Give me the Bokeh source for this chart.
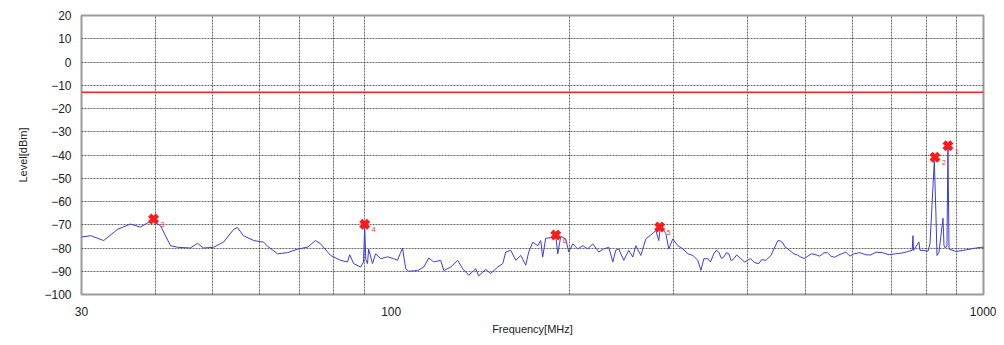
import numpy as np
from bokeh.plotting import figure
from bokeh.models import Range1d, FixedTicker, ColumnDataSource
from bokeh.embed import file_html
from bokeh.resources import INLINE

# ---- data ----
freq = [30.0, 31.1, 32.7, 34.5, 36.3, 37.7, 38.8, 39.7, 40.8, 42.4, 43.6, 45.8, 47.1, 48.2,
        50.1, 52.1, 54.2, 55.0, 56.3, 58.6, 60.9, 61.9, 64.3, 66.8, 69.5, 72.3, 74.5, 76.0,
        79.0, 82.1, 84.4, 85.1, 86.4, 88.8, 89.8, 90.2, 90.6, 91.2, 91.6, 93.0, 94.1, 96.0,
        98.6, 101.0, 102.5, 103.7, 104.5, 105.8, 107.0, 110.8, 113.5, 115.7, 118.0, 121.2,
        122.7, 126.0, 129.5, 132.0, 135.2, 138.9, 140.5, 144.4, 147.2, 151.3, 154.3, 156.1,
        159.2, 162.3, 165.5, 168.7, 170.7, 173.4, 176.8, 178.8, 180.2, 182.3, 185.9, 187.4,
        189.6, 191.1, 193.3, 197.1, 199.4, 202.6, 206.5, 210.6, 214.7, 218.9, 224.1, 228.5,
        233.0, 236.7, 239.4, 242.2, 247.0, 251.8, 255.8, 258.8, 263.9, 269.1, 274.4, 279.8,
        283.0, 284.5, 287.4, 290.8, 294.2, 298.8, 304.7, 310.8, 316.9, 323.1, 329.4, 333.3,
        337.2, 342.4, 346.0, 350.5, 354.0, 357.4, 361.0, 364.4, 368.0, 371.6, 375.0, 378.9,
        383.0, 389.4, 395.0, 400.0, 404.0, 409.4, 413.0, 417.5, 422.0, 429.1, 437.6, 442.7,
        449.7, 454.0, 458.5, 462.0, 467.5, 473.0, 478.5, 485.0, 491.6, 498.0, 505.1, 512.0,
        521.2, 529.0, 537.6, 545.0, 552.5, 560.0, 567.6, 576.0, 585.6, 595.0, 604.2, 618.0,
        633.0, 645.0, 658.3, 675.0, 692.4, 710.0, 731.1, 745.0, 758.0, 760.0, 762.0, 778.1,
        781.0, 790.3, 805.9, 812.2, 818.5, 826.0, 831.0, 834.6, 841.1, 854.3, 857.6, 862.0,
        867.6, 871.0, 874.5, 898.5, 934.0, 971.0, 998.0, 1000.0]
level = [-75.3, -74.7, -76.8, -72.0, -69.7, -71.0, -69.2, -68.5, -70.5, -79.0, -79.7, -80.0, -78.0, -80.0,
         -79.7, -77.5, -72.0, -71.2, -74.7, -76.8, -77.5, -79.3, -82.5, -82.0, -80.5, -79.6, -76.8, -78.2,
         -83.2, -85.3, -86.0, -82.9, -86.7, -88.2, -86.0, -70.5, -85.0, -86.7, -80.5, -86.7, -82.5, -84.6,
         -83.8, -84.6, -85.3, -82.0, -80.0, -88.9, -90.0, -89.7, -88.2, -84.3, -86.0, -85.3,
         -89.7, -88.2, -85.3, -88.9, -91.7, -88.9, -92.0, -89.2, -91.0, -88.2, -86.7, -81.7,
         -81.0, -85.3, -83.2, -87.4, -81.7, -77.5, -79.0, -76.8, -83.9, -75.8, -75.6, -75.0,
         -75.0, -82.5, -75.0, -76.1, -81.7, -78.2, -80.4, -79.0, -80.4, -78.2, -81.7, -80.4,
         -79.7, -86.0, -81.0, -80.4, -85.3, -81.0, -83.9, -79.0, -83.2, -76.1, -74.4, -72.5,
         -76.8, -71.5, -72.0, -73.7, -80.4, -76.1, -79.0, -80.4, -82.5, -83.2, -85.3, -89.6,
         -84.6, -84.6, -86.0, -82.5, -81.0, -81.8, -84.5, -83.9, -82.0, -82.5, -85.5, -84.6,
         -83.0, -84.6, -86.0, -85.3, -84.5, -86.0, -86.5, -86.7, -85.0, -85.3, -83.2, -80.4,
         -76.8, -77.0, -77.8, -79.5, -80.4, -81.5, -82.5, -83.0, -83.9, -84.5, -83.5, -82.5,
         -82.9, -83.5, -82.1, -82.0, -83.5, -84.0, -83.2, -82.5, -81.8, -83.5, -82.5, -82.0,
         -82.9, -83.0, -81.8, -82.0, -82.9, -82.5, -82.1, -81.5, -81.0, -74.7, -81.0, -77.4,
         -81.0, -81.0, -81.4, -78.2, -61.8, -42.5, -64.7, -83.2, -81.8, -67.2, -78.9, -80.0,
         -79.0, -37.0, -80.4, -81.5, -80.8, -80.0, -79.6, -80.0]

limit_freq = [30, 1000]
limit_level = [-13, -13]

mk_freq = [39.7, 90.2, 189.6, 284.0, 828.0, 871.0]
mk_level = [-67.5, -69.8, -74.4, -71.0, -41.0, -36.0]
mk_label = ["3", "4", "6", "5", "2", "1"]

x_major = [30, 100, 1000]
x_grid = [40, 50, 60, 70, 80, 90, 200, 300, 400, 500, 600, 700, 800, 900]
y_ticks = list(range(-100, 21, 10))

# ---- figure ----
order = np.argsort(freq)
f_arr = np.array(freq)[order]
l_arr = np.array(level)[order]

FONT = "Liberation Sans"
p = figure(width=996, height=337, x_axis_type="log",
           x_range=Range1d(30, 1000), y_range=Range1d(-100, 20),
           output_backend="svg", toolbar_location=None,
           min_border_left=81, min_border_right=13, min_border_top=15, min_border_bottom=41)
p.background_fill_color = "white"
p.border_fill_color = "white"
p.outline_line_color = "#9a9a9a"
p.outline_line_width = 2

p.xaxis.ticker = FixedTicker(ticks=x_major)
p.xaxis.major_label_overrides = {30: "30", 100: "100", 1000: "1000"}
p.yaxis.ticker = FixedTicker(ticks=y_ticks)
for ax in (p.xaxis[0], p.yaxis[0]):
    ax.axis_line_color = None
    ax.major_tick_line_color = None
    ax.minor_tick_line_color = None
    ax.major_label_text_font = FONT
    ax.major_label_text_font_size = "12px"
    ax.major_label_text_color = "#222222"
    ax.axis_label_text_font = FONT
    ax.axis_label_text_font_size = "11px"
    ax.axis_label_text_font_style = "normal"
    ax.axis_label_text_color = "#222222"
p.xaxis.major_label_standoff = 6
p.yaxis.major_label_standoff = 4
p.xaxis.axis_label = "Frequency[MHz]"
p.yaxis.axis_label = "Level[dBm]"
p.xaxis.axis_label_standoff = 4
p.yaxis.axis_label_standoff = 12

p.xgrid.ticker = FixedTicker(ticks=x_grid)
p.ygrid.ticker = FixedTicker(ticks=list(range(-90, 20, 10)))
for g in (p.xgrid[0], p.ygrid[0]):
    g.grid_line_color = "#333333"
    g.grid_line_dash = "2 1"
    g.grid_line_alpha = 0.75
    g.grid_line_width = 1

p.line(f_arr, l_arr, line_color="#3c3cdc", line_width=1)
p.line(limit_freq, limit_level, line_color="#ff2020", line_width=1.5)

src = ColumnDataSource(dict(x=mk_freq, y=mk_level, t=mk_label))
p.scatter("x", "y", source=src, marker="x", size=11, line_color="#ff1a1a", line_width=4.5)
p.text("x", "y", text="t", source=src, x_offset=7, y_offset=3, text_font_size="7px",
       text_color="#ff3030", text_baseline="top")

open("out.html", "w").write(file_html(p, INLINE))
